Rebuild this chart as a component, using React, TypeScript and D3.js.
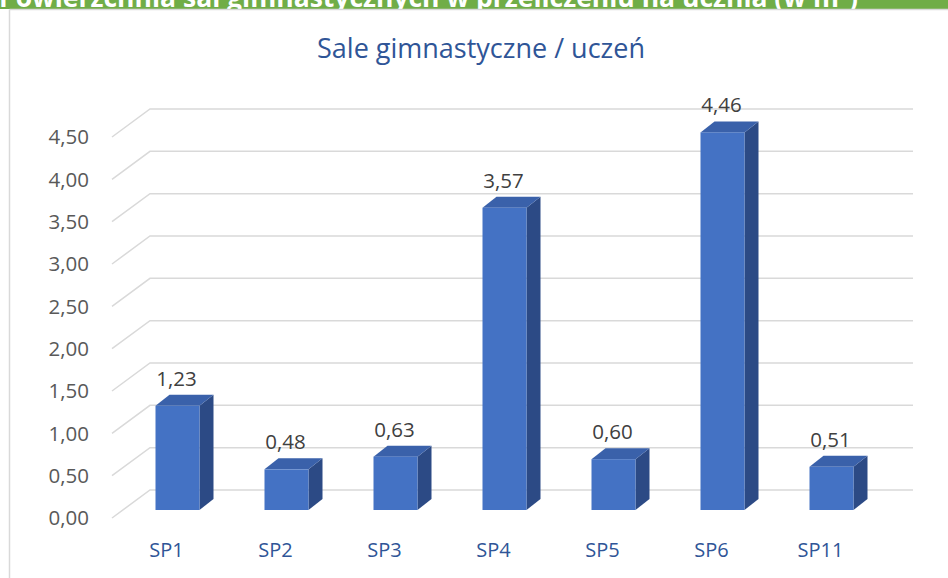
import * as d3 from "d3";
import React, { useEffect, useRef } from "react";

// data
const categories = ["SP1", "SP2", "SP3", "SP4", "SP5", "SP6", "SP11"];
const values = [1.23, 0.48, 0.63, 3.57, 0.6, 4.46, 0.51];
const yTicks = [0, 0.5, 1, 1.5, 2, 2.5, 3, 3.5, 4, 4.5];
const chartTitle = "Sale gimnastyczne / uczeń";
const bannerText = "Powierzchnia sal gimnastycznych w przeliczeniu na ucznia (w m²)";

const fmt = (v: number) => d3.format(".2f")(v).replace(".", ",");

const App = () => {
  const ref = useRef<SVGSVGElement | null>(null);

  useEffect(() => {
    const width = 948;
    const height = 578;
    const svg = d3.select(ref.current);
    svg.selectAll("*").remove();
    svg.attr("width", width).attr("height", height);

    const font = "'Open Sans', sans-serif";

    // depth of the 3d box (back wall -> front edge)
    const wallDx = -38;
    const wallDy = 28;
    // bar front face sits this far in front of the back wall
    const barDx = -27;
    const barDy = 20;
    // bar thickness
    const depthX = 14;
    const depthY = -11;

    const x = d3.scaleBand<string>().domain(categories).range([150, 913]).paddingInner(0).paddingOuter(0);
    const y = d3.scaleLinear().domain([0, 4.5]).range([490, 109]);

    // green banner at top (title cut off)
    const defs = svg.append("defs");
    defs.append("clipPath").attr("id", "bannerClip")
      .append("rect").attr("x", 0).attr("y", 0).attr("width", width).attr("height", 9);
    svg.append("rect").attr("x", 0).attr("y", 0).attr("width", width).attr("height", 9).attr("fill", "#70AD47");
    svg.append("text")
      .attr("clip-path", "url(#bannerClip)")
      .attr("x", -1)
      .attr("y", 6.5)
      .attr("textLength", 859)
      .attr("lengthAdjust", "spacingAndGlyphs")
      .attr("fill", "#ffffff")
      .style("font-family", font)
      .style("font-weight", 700)
      .style("font-size", "26px")
      .text(bannerText);

    // chart border
    svg.append("line").attr("x1", 9.5).attr("x2", width).attr("y1", 9.5).attr("y2", 9.5)
      .attr("stroke", "#D9D9D9").attr("stroke-width", 1.5);
    svg.append("line").attr("x1", 9.5).attr("x2", 9.5).attr("y1", 9.5).attr("y2", height)
      .attr("stroke", "#D9D9D9").attr("stroke-width", 1.5);

    // title
    svg.append("text")
      .attr("x", 481)
      .attr("y", 58)
      .attr("text-anchor", "middle")
      .attr("fill", "#2F5597")
      .style("font-family", font)
      .style("font-size", "27px")
      .text(chartTitle);

    // gridlines: back wall + side wall diagonals
    const grid = svg.append("g").attr("stroke", "#D9D9D9").attr("stroke-width", 1.5).attr("fill", "none");
    yTicks.forEach((t) => {
      const yy = y(t);
      grid.append("path")
        .attr("d", `M${150 + wallDx},${yy + wallDy}L150,${yy}L913,${yy}`);
    });

    // y axis labels
    svg.append("g")
      .selectAll("text")
      .data(yTicks)
      .enter()
      .append("text")
      .attr("x", 89)
      .attr("y", (d) => y(d) + wallDy)
      .attr("dy", "0.35em")
      .attr("text-anchor", "end")
      .attr("fill", "#595959")
      .style("font-family", font)
      .style("font-size", "20.5px")
      .text((d) => fmt(d));

    // bars
    const barW = 44;
    const bars = svg.append("g")
      .selectAll("g")
      .data(values.map((v, i) => ({ v, c: categories[i] })))
      .enter()
      .append("g");

    const fx = (d: any) => (x(d.c) as number) + x.bandwidth() / 2 + barDx - barW / 2;
    const fTop = (d: any) => y(d.v) + barDy;
    const fBot = y(0) + barDy;

    // side face
    bars.append("path")
      .attr("d", (d) => {
        const r = fx(d) + barW;
        const t = fTop(d);
        return `M${r},${t}L${r + depthX},${t + depthY}L${r + depthX},${fBot + depthY}L${r},${fBot}Z`;
      })
      .attr("fill", "#2C4A85");
    // top face
    bars.append("path")
      .attr("d", (d) => {
        const l = fx(d);
        const t = fTop(d);
        return `M${l},${t}L${l + depthX},${t + depthY}L${l + barW + depthX},${t + depthY}L${l + barW},${t}Z`;
      })
      .attr("fill", "#3A61AA");
    // front face
    bars.append("rect")
      .attr("x", fx)
      .attr("y", fTop)
      .attr("width", barW)
      .attr("height", (d) => fBot - fTop(d))
      .attr("fill", "#4472C4");

    // value labels
    bars.append("text")
      .attr("x", (d) => fx(d) + barW / 2 - 1)
      .attr("y", (d) => fTop(d) + depthY - 9)
      .attr("text-anchor", "middle")
      .attr("fill", "#404040")
      .style("font-family", font)
      .style("font-size", "20.5px")
      .text((d) => fmt(d.v));

    // category labels
    svg.append("g")
      .selectAll("text")
      .data(categories)
      .enter()
      .append("text")
      .attr("x", (d) => (x(d) as number) + x.bandwidth() / 2 + wallDx)
      .attr("y", 557)
      .attr("text-anchor", "middle")
      .attr("fill", "#2F5597")
      .style("font-family", font)
      .style("font-size", "20px")
      .text((d) => d);
  }, []);

  return (
    <svg ref={ref} style={{ position: "absolute", left: 0, top: 0, background: "#ffffff" }} />
  );
};

export default App;
